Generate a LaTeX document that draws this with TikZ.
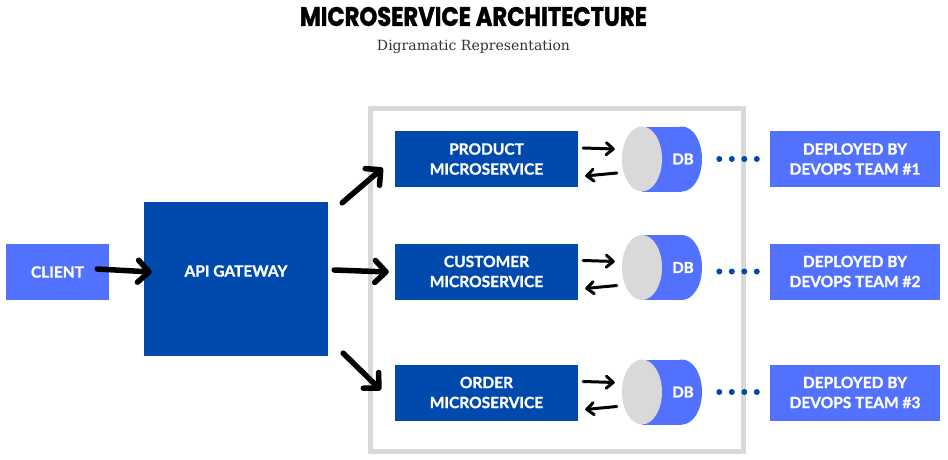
\documentclass[tikz,border=0pt]{standalone}
\usepackage{fontspec}
\usepackage{graphicx}
\setmainfont{Lato}[BoldFeatures={FakeBold=1.2}]
\newfontfamily\titlefont{Poppins}[BoldFeatures={FakeBold=1.5}]
\newfontfamily\subfont{DejaVu Serif}
\usetikzlibrary{arrows.meta,calc,shapes.geometric}
\definecolor{dblue}{HTML}{004AAD}
\definecolor{lblue}{HTML}{5271FF}
\definecolor{lgray}{HTML}{D9D9D9}
\definecolor{subgray}{HTML}{333333}
\begin{document}
\begin{tikzpicture}[x=1pt,y=-1pt,
  box/.style={rectangle, inner sep=0pt, align=center, text=white,
    font=\bfseries\fontsize{15.5}{20}\selectfont},
  dkbox/.style={box, fill=dblue},
  ltbox/.style={box, fill=lblue},
  bigarrow/.style={line width=5.5pt, line cap=round,
    -{Straight Barb[length=11pt,width=22pt,line cap=round,line join=round]}},
  smallarrow/.style={line width=3pt, line cap=round,
    -{Straight Barb[length=7pt,width=12pt,line cap=round,line join=round]}},
  dbface/.style={ellipse, fill=lgray, inner sep=0pt,
    minimum width=40pt, minimum height=65pt},
  dblabel/.style={inner sep=0pt, text=white, font=\bfseries\fontsize{15}{17}\selectfont},
  container/.style={draw=lgray, line width=5pt}
]
\useasboundingbox (0,0) rectangle (948,460);

% title
\node[inner sep=0pt] (title) at (473.5,16.5)
  {\resizebox{347pt}{19pt}{\titlefont\bfseries MICROSERVICE ARCHITECTURE}};
\node[inner sep=0pt, anchor=base, text=subgray] (subtitle) at (473.5,51)
  {\resizebox{193pt}{!}{\subfont\fontsize{11}{13}\selectfont Digramatic Representation}};

% container
\draw[container] (370,108) rectangle (743,451);

% client and gateway
\node[ltbox, minimum width=103pt, minimum height=56pt] (client) at (57.5,272) {CLIENT};
\node[dkbox, minimum width=184pt, minimum height=154pt] (gw) at (236,279) {};
\node[box] (gwtext) at (236,271) {API GATEWAY};

% rows
\foreach \n/\by/\dy/\doty/\lab/\t in
  {1/159/159/159/PRODUCT/1, 2/271.5/267.5/271.5/CUSTOMER/2, 3/392.5/392/392/ORDER/3}{
  \node[dkbox, minimum width=183pt, minimum height=56pt] (ms\n) at (486.5,\by)
    {\lab\\MICROSERVICE};
  \fill[lblue] (642,\dy-32.5) rectangle (682,\dy+32.5);
  \fill[lblue] (682,\dy) ellipse [x radius=20pt, y radius=32.5pt];
  \node[dbface] (db\n) at (642,\dy) {};
  \node[dblabel] (dbt\n) at (683,\dy) {DB};
  \foreach \x in {719.3,731.8,744.3,756.8}
    \fill[dblue] (\x,\doty) circle (3pt);
  \node[ltbox, minimum width=170pt, minimum height=56pt] (dep\n) at (855,\by)
    {DEPLOYED BY\\DEVOPS TEAM \#\t};
  \draw[smallarrow] ($(ms\n.east)+(5,-11)$) -- ($(db\n.west)+(-7,\by-\dy-10)$);
  \draw[smallarrow] ($(db\n.west)+(-5,\by-\dy+14)$) -- ($(ms\n.east)+(7,17)$);
}

% big arrows
\draw[bigarrow] ($(client.east)+(-12,-3)$) -- ($(gw.west)+(8,-7)$);
\draw[bigarrow] ($(gw.north east)+(14,1)$) -- ($(ms1.west)+(-12,9)$);
\draw[bigarrow] ($(gw.east)+(6,-9)$) -- ($(ms2.west)+(-6,0.5)$);
\draw[bigarrow] ($(gw.south east)+(15,-3)$) -- ($(ms3.west)+(-14,-2.5)$);
\end{tikzpicture}
\end{document}
